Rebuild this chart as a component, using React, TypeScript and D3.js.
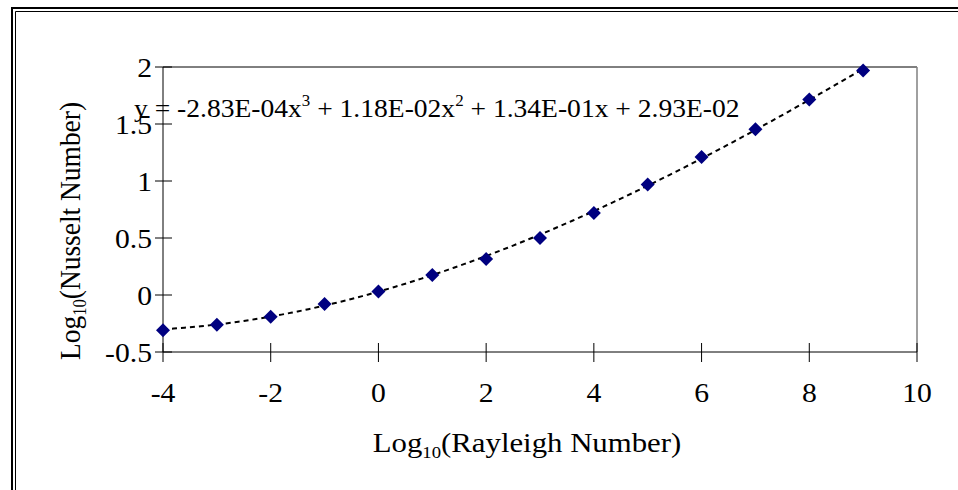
import React from "react";
import * as d3 from "d3";

const xValues = [-4, -3, -2, -1, 0, 1, 2, 3, 4, 5, 6, 7, 8, 9];
const yValues = [-0.31, -0.26, -0.19, -0.08, 0.03, 0.175, 0.315, 0.5, 0.72, 0.97, 1.21, 1.455, 1.715, 1.97];
const xTicks = [-4, -2, 0, 2, 4, 6, 8, 10];
const yTicks = [-0.5, 0, 0.5, 1, 1.5, 2];
// cubic trendline coefficients [x^3, x^2, x, const], as printed on the chart
const trendCoef = [-2.83e-4, 1.18e-2, 1.34e-1, 2.93e-2];

const W = 958;
const H = 490;
const L = 163, R = 917, T = 67, B = 352;
const FONT = "'Liberation Serif', 'Times New Roman', serif";

export default function App() {
  const x = d3.scaleLinear().domain([-4, 10]).range([L, R]);
  const y = d3.scaleLinear().domain([-0.5, 2]).range([B, T]);
  const poly = (v: number) =>
    trendCoef[0] * v ** 3 + trendCoef[1] * v ** 2 + trendCoef[2] * v + trendCoef[3];
  const samples = d3.range(0, 131).map((i) => xValues[0] + (i / 130) * (xValues[xValues.length - 1] - xValues[0]));
  const line = d3.line<number>().x((v) => x(v)).y((v) => y(poly(v)));
  const diamond = d3.symbol().type(d3.symbolDiamond2).size(125)();
  const fs = 28;
  const efs = 26;

  return (
    <svg width={W} height={H} style={{ display: "block", position: "absolute", left: 0, top: 0 }}>
      <rect x={0} y={0} width={W} height={H} fill="#fff" />
      {/* double border */}
      <path d={`M12,${H + 5} V8 H${W + 5}`} fill="none" stroke="#000" strokeWidth={2} />
      <path d={`M15.5,${H + 5} V11.5 H${W + 5}`} fill="none" stroke="#000" strokeWidth={1} />
      {/* plot frame */}
      <line x1={L} y1={T} x2={R} y2={T} stroke="#000" strokeWidth={1} />
      <line x1={R} y1={T} x2={R} y2={B} stroke="#808080" strokeWidth={1.5} />
      {/* axes */}
      <line x1={L} y1={T} x2={L} y2={B} stroke="#000" strokeWidth={1} />
      <line x1={L} y1={B} x2={R} y2={B} stroke="#000" strokeWidth={1} />
      {yTicks.map((t) => (
        <g key={"y" + t}>
          <line x1={L - 8} x2={L + 9} y1={y(t)} y2={y(t)} stroke="#000" strokeWidth={1} />
          <text
            transform={`translate(${L - 11},${y(t)}) scale(1.06,1)`}
            dy="0.35em"
            textAnchor="end"
            fontFamily={FONT}
            fontSize={fs}
          >
            {String(t)}
          </text>
        </g>
      ))}
      {xTicks.map((t) => (
        <g key={"x" + t}>
          <line x1={x(t)} x2={x(t)} y1={B - 9} y2={B + 10} stroke="#000" strokeWidth={1} />
          <text
            transform={`translate(${x(t)},392) scale(1.06,1)`}
            dy="0.35em"
            textAnchor="middle"
            fontFamily={FONT}
            fontSize={fs}
          >
            {t}
          </text>
        </g>
      ))}
      {/* trendline */}
      <path d={line(samples) || ""} fill="none" stroke="#000" strokeWidth={2} strokeDasharray="5,4" />
      {/* markers */}
      {xValues.map((v, i) => (
        <path key={i} d={diamond || ""} transform={`translate(${x(v)},${y(yValues[i])})`} fill="#000080" />
      ))}
      {/* equation */}
      <text transform="translate(134,117) scale(1.06,1)" fontFamily={FONT} fontSize={efs}>
        <tspan>y = -2.83E-04x</tspan>
        <tspan fontSize={16} dy={-11}>3</tspan>
        <tspan dy={11}> + 1.18E-02x</tspan>
        <tspan fontSize={16} dy={-11}>2</tspan>
        <tspan dy={11}> + 1.34E-01x + 2.93E-02</tspan>
      </text>
      {/* axis titles */}
      <text transform="translate(527,452) scale(1.1,1)" textAnchor="middle" fontFamily={FONT} fontSize={fs}>
        <tspan>Log</tspan>
        <tspan fontSize={17} dy={6}>10</tspan>
        <tspan dy={-6}>(Rayleigh Number)</tspan>
      </text>
      <text transform={`translate(80,231) rotate(-90) scale(0.98,1.05)`} textAnchor="middle" fontFamily={FONT} fontSize={fs}>
        <tspan>Log</tspan>
        <tspan fontSize={17} dy={6}>10</tspan>
        <tspan dy={-6}>(Nusselt Number)</tspan>
      </text>
    </svg>
  );
}
